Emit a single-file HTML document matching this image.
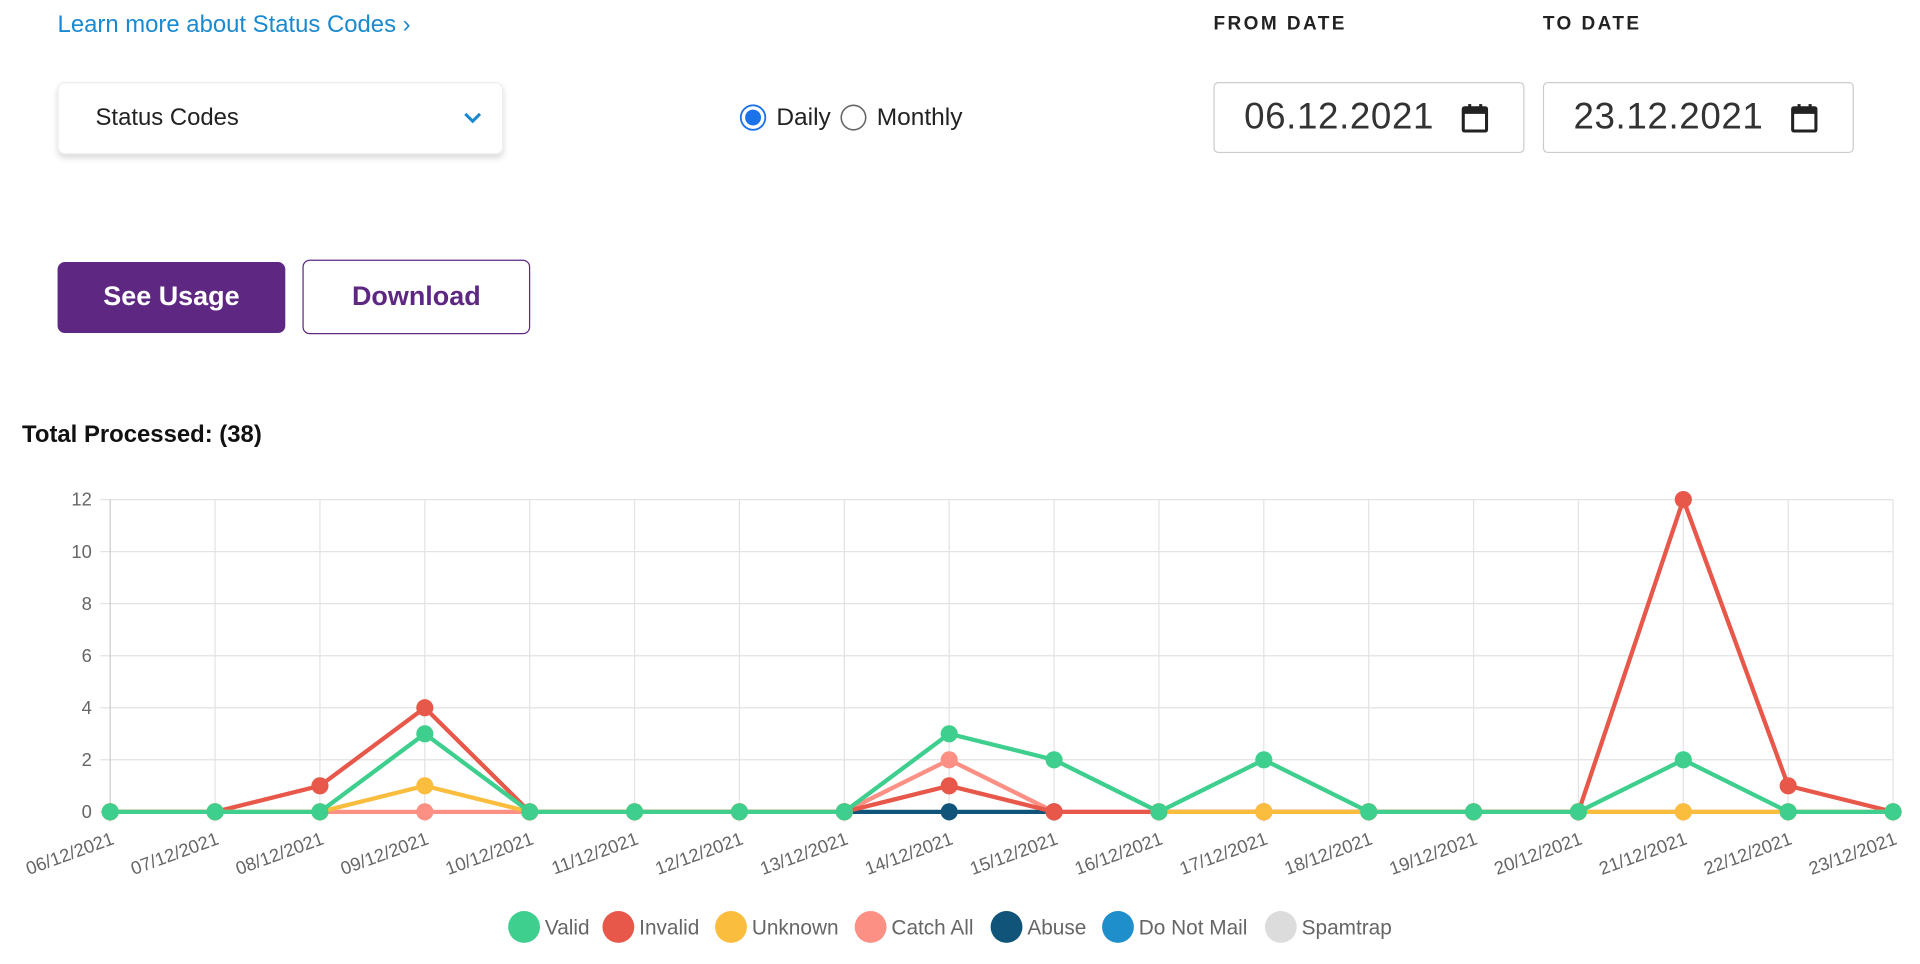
<!DOCTYPE html>
<html><head><meta charset="utf-8"><style>
html,body{margin:0;padding:0;background:#fff;overflow:hidden;width:1920px;height:964px}
#wrap{position:absolute;left:0;top:0;width:1568px;height:787px;transform:scale(1.22449);transform-origin:0 0;font-family:"Liberation Sans",sans-serif}
.abs{position:absolute}
</style></head><body>
<div id="wrap">
<a class="abs" style="left:47px;top:9px;font-size:19.5px;color:#1a8ad0;text-decoration:none">Learn more about Status Codes ›</a>
<div class="abs" style="left:991px;top:11px;font-size:15.5px;font-weight:bold;letter-spacing:2px;color:#222">FROM DATE</div>
<div class="abs" style="left:1260px;top:11px;font-size:15.5px;font-weight:bold;letter-spacing:2px;color:#222">TO DATE</div>
<div class="abs" style="left:47px;top:67px;width:362px;height:57px;border:1px solid #eee;border-radius:6px;box-shadow:0 3px 5px rgba(0,0,0,0.15)">
<span class="abs" style="left:30px;top:17px;font-size:19.5px;color:#222">Status Codes</span>
<svg class="abs" style="left:330px;top:22px" width="16" height="12"><path d="M2 3 L8 9 L14 3" fill="none" stroke="#1a8ad0" stroke-width="2.5"/></svg>
</div>
<svg class="abs" style="left:604px;top:85px" width="22" height="22"><circle cx="11" cy="11" r="10" fill="#fff" stroke="#1a73e8" stroke-width="1.5"/><circle cx="11" cy="11" r="6.5" fill="#1a73e8"/></svg>
<span class="abs" style="left:634px;top:85px;font-size:20px;color:#222">Daily</span>
<svg class="abs" style="left:686px;top:85px" width="22" height="22"><circle cx="11" cy="11" r="10" fill="#fff" stroke="#666" stroke-width="1.3"/></svg>
<span class="abs" style="left:716px;top:85px;font-size:20px;color:#222">Monthly</span>
<div class="abs" style="left:991px;top:67px;width:252px;height:56px;border:1px solid #ccc;border-radius:4px">
<span class="abs" style="left:24px;top:11px;font-size:30px;color:#333;letter-spacing:0.5px">06.12.2021</span>
<svg class="abs" style="left:201px;top:16px" width="24" height="26"><rect x="2" y="4" width="19" height="19" fill="none" stroke="#222" stroke-width="2.5" rx="1"/><rect x="2" y="4" width="19" height="5" fill="#222"/><rect x="6" y="1" width="2.5" height="5" fill="#222"/><rect x="15" y="1" width="2.5" height="5" fill="#222"/></svg>
</div>
<div class="abs" style="left:1260px;top:67px;width:252px;height:56px;border:1px solid #ccc;border-radius:4px">
<span class="abs" style="left:24px;top:11px;font-size:30px;color:#333;letter-spacing:0.5px">23.12.2021</span>
<svg class="abs" style="left:201px;top:16px" width="24" height="26"><rect x="2" y="4" width="19" height="19" fill="none" stroke="#222" stroke-width="2.5" rx="1"/><rect x="2" y="4" width="19" height="5" fill="#222"/><rect x="6" y="1" width="2.5" height="5" fill="#222"/><rect x="15" y="1" width="2.5" height="5" fill="#222"/></svg>
</div>
<div class="abs" style="left:47px;top:214px;width:186px;height:58px;background:#5e2882;border-radius:6px;color:#fff;font-size:22px;font-weight:bold;text-align:center;line-height:56px">See Usage</div>
<div class="abs" style="left:247px;top:212px;width:184px;height:59px;border:1.5px solid #5e2882;border-radius:6px;color:#5e2882;font-size:22px;font-weight:bold;text-align:center;line-height:58px">Download</div>
<div class="abs" style="left:18px;top:344px;font-size:19.5px;font-weight:bold;color:#111">Total Processed: (38)</div>
<svg id="chart" class="abs" style="left:0;top:390px" width="1568" height="397"></svg>
</div>
<script>
const categories=["06/12/2021","07/12/2021","08/12/2021","09/12/2021","10/12/2021","11/12/2021","12/12/2021","13/12/2021","14/12/2021","15/12/2021","16/12/2021","17/12/2021","18/12/2021","19/12/2021","20/12/2021","21/12/2021","22/12/2021","23/12/2021"];
const validData=[0,0,0,3,0,0,0,0,3,2,0,2,0,0,0,2,0,0];
const invalidData=[0,0,1,4,0,0,0,0,1,0,0,0,0,0,0,12,1,0];
const unknownData=[0,0,0,1,0,0,0,0,null,null,0,0,0,0,0,0,0,0];
const catchAllData=[0,0,0,0,0,0,0,0,2,0,0,0,0,0,0,0,0,0];
const abuseData=[null,null,null,null,null,null,null,0,0,0,null,null,null,null,null,null,null,null];
const doNotMailData=[null,null,null,null,null,null,null,null,null,null,null,null,null,null,null,null,null,null];
const spamtrapData=[null,null,null,null,null,null,null,null,null,null,null,null,null,null,null,null,null,null];
const yTicks=[0,2,4,6,8,10,12];
const seriesNames=["Valid","Invalid","Unknown","Catch All","Abuse","Do Not Mail","Spamtrap"];
const seriesColors=["#3ecf8e","#e8584a","#fbbd3e","#fc9084","#11547a","#1e8fca","#dcdcdc"];
const seriesData=[validData,invalidData,unknownData,catchAllData,abuseData,doNotMailData,spamtrapData];
const drawOrder=[6,5,3,4,1,2,0];
const svg=document.getElementById('chart');
const NS='http://www.w3.org/2000/svg';
const OY=390, X0=90, X1=1546, Y0=663-OY, Y1=408-OY, YMAX=12;
function xs(i){return X0+i*(X1-X0)/(categories.length-1);}
function ys(v){return Y0-v*(Y0-Y1)/YMAX;}
function mk(t,a){const e=document.createElementNS(NS,t);for(const k in a)e.setAttribute(k,a[k]);svg.appendChild(e);return e;}
yTicks.forEach(t=>{
  const l=mk('line',{x1:X0-8,x2:X1,y1:ys(t),y2:ys(t),stroke:t===0?'#ccc':'#e3e3e3','stroke-width':1});
  
  
  const tx=mk('text',{x:X0-15,y:ys(t)+5,'text-anchor':'end','font-size':15,fill:'#666','font-family':'Liberation Sans, sans-serif'});
  tx.textContent=t;
  
  
});
categories.forEach((c,i)=>{
  const l=mk('line',{x1:xs(i),x2:xs(i),y1:Y1,y2:Y0+8,stroke:i===0?'#ccc':'#e3e3e3','stroke-width':1});
  
  
  const tx=mk('text',{x:xs(i)+4,y:Y0+26,'text-anchor':'end','font-size':15,fill:'#666','font-family':'Liberation Sans, sans-serif',transform:`rotate(-20 ${xs(i)+4} ${Y0+26})`});
  tx.textContent=c;
  
  
});
drawOrder.forEach(s=>{
  const d=seriesData[s];
  let seg=[];
  const segs=[];
  d.forEach((v,i)=>{ if(v===null){ if(seg.length)segs.push(seg); seg=[]; } else seg.push(xs(i)+','+ys(v)); });
  if(seg.length)segs.push(seg);
  segs.forEach(sg=>{
    const p=mk('polyline',{points:sg.join(' '),fill:'none',stroke:seriesColors[s],'stroke-width':3.5,'stroke-linejoin':'round'});
    
    
  });
  d.forEach((v,i)=>{
    if(v===null)return;
    const c=mk('circle',{cx:xs(i),cy:ys(v),r:7,fill:seriesColors[s]});
    
    
  });
});
const legendX=[428,505,597,711,822,913,1046];
seriesNames.forEach((n,i)=>{
  const c=mk('circle',{cx:legendX[i],cy:757-OY,r:13,fill:seriesColors[i]});
  
  
  const t=mk('text',{x:legendX[i]+17,y:763-OY,'font-size':17,fill:'#666','font-family':'Liberation Sans, sans-serif'});
  t.textContent=n;
  
  
});
</script>
</body></html>
